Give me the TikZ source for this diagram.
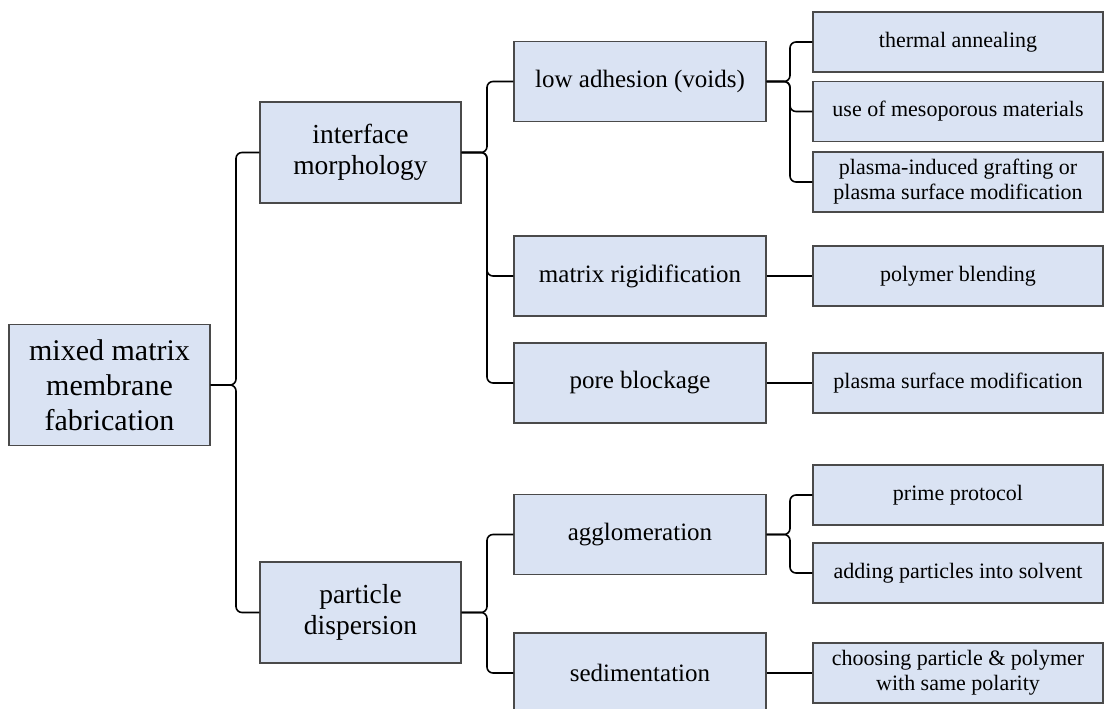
\documentclass[tikz,border=0pt]{standalone}
\usepackage{fontspec}
\setmainfont{Liberation Serif}
\usepackage{tikz}
\definecolor{boxfill}{HTML}{DAE3F3}
\definecolor{boxline}{HTML}{4A4A4A}

\begin{document}
\begin{tikzpicture}[
            x=1pt, y=-1pt,
            box/.style={draw=boxline, line width=1.4pt, fill=boxfill, align=center, inner sep=2pt},
            link/.style={line width=1.6pt, rounded corners=6pt}
        ]
            \useasboundingbox (0,0) rectangle (1105,709);
            \clip (0,0) rectangle (1105,709);

            % left column
            \node[box, minimum width=201, minimum height=121, font=\fontsize{30}{35}\selectfont]
                (root) at (109.5,385) {mixed matrix\\membrane\\fabrication};
            \node[box, minimum width=201, minimum height=101, font=\fontsize{27.5}{31}\selectfont]
                (inter) at (360.5,152.5) {interface\\morphology};
            \node[box, minimum width=201, minimum height=101, font=\fontsize{27.5}{31}\selectfont]
                (disp) at (360.5,612.5) {particle\\dispersion};

            % middle column
            \begin{scope}[every node/.append style={minimum width=252, minimum height=80,
                    font=\fontsize{25}{29}\selectfont}]
                \node[box] (voids) at (640,81.5) {low adhesion (voids)};
                \node[box] (rigid) at (640,276) {matrix rigidification};
                \node[box] (pore)  at (640,383) {pore blockage};
                \node[box] (agglo) at (640,534.5) {agglomeration};
                \node[box] (sedim) at (640,673) {sedimentation};
            \end{scope}

            % right column
            \begin{scope}[every node/.append style={minimum width=290, minimum height=60,
                    font=\fontsize{22}{25}\selectfont}]
                \node[box] (anneal) at (958,42) {thermal annealing};
                \node[box] (meso)   at (958,111.5) {use of mesoporous materials};
                \node[box] (graft)  at (958,182) {plasma-induced grafting or\\plasma surface modification};
                \node[box] (blend)  at (958,276) {polymer blending};
                \node[box] (plasma) at (958,383) {plasma surface modification};
                \node[box] (prime)  at (958,495) {prime protocol};
                \node[box] (solv)   at (958,573) {adding particles into solvent};
                \node[box] (polar)  at (958,673) {choosing particle \& polymer\\with same polarity};
            \end{scope}

            \coordinate (bar1) at (236,0);
            \coordinate (bar2) at (487,0);
            \coordinate (bar3) at (790,0);

            % braces
            \foreach \p/\c/\b in {root/inter/bar1, root/disp/bar1,
                    inter/voids/bar2, inter/rigid/bar2, inter/pore/bar2,
                    disp/agglo/bar2, disp/sedim/bar2,
                    voids/anneal/bar3, voids/meso/bar3, voids/graft/bar3,
                    agglo/prime/bar3, agglo/solv/bar3} {
                \draw[link] (\p.east) -- (\p.east -| \b) -- (\c.west -| \b) -- (\c.west);
            }

            % single links
            \draw[link] (rigid) -- (blend);
            \draw[link] (pore) -- (plasma);
            \draw[link] (sedim) -- (polar);
        \end{tikzpicture}
\end{document}
